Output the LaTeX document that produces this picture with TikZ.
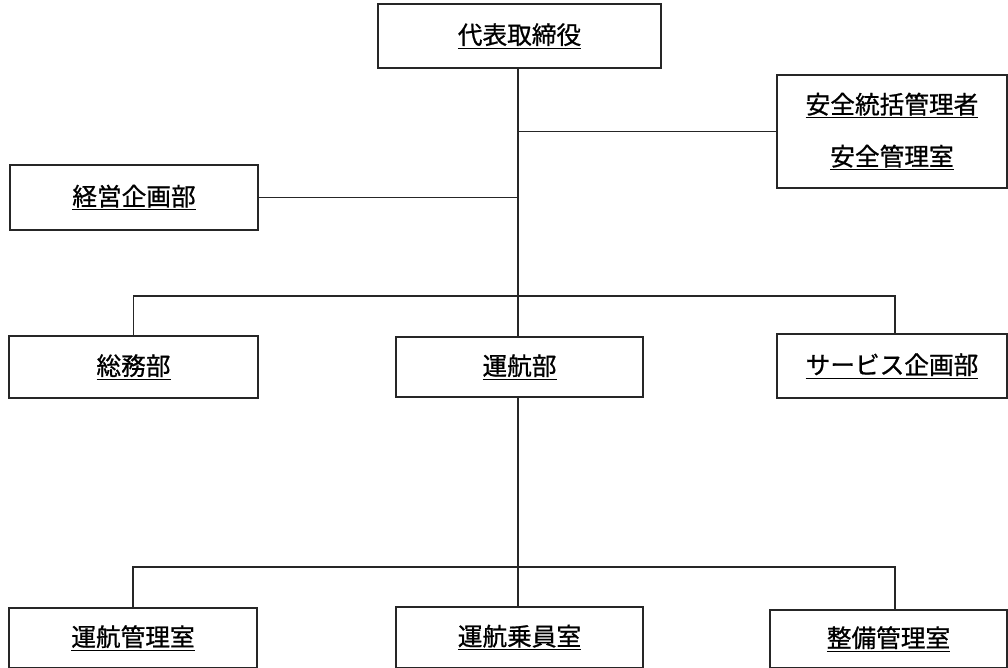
\documentclass[tikz,border=0pt]{standalone}
\usepackage{fontspec}
\setmainfont{Noto Sans CJK JP}[FakeBold=0.8]
\usetikzlibrary{calc}
\begin{document}
\begin{tikzpicture}[x=0.75pt,y=-0.75pt,
  orgbox/.style={draw=black!85,line width=1.2pt,fill=white,inner sep=0pt,
    font=\fontsize{18.5pt}{22pt}\selectfont,align=center},
  link/.style={draw=black!85,line width=1.2pt}]
\useasboundingbox (0,0) rectangle (1008,668);
% boxes
\node[orgbox,minimum width=283*0.75pt,minimum height=64*0.75pt] (top) at (519.5,36) {\underline{代表取締役}};
\node[orgbox,minimum width=230*0.75pt,minimum height=113*0.75pt] (anzen) at (892,131.5) {\underline{安全統括管理者}\\[17pt]\underline{安全管理室}};
\node[orgbox,minimum width=248*0.75pt,minimum height=65*0.75pt] (keiei) at (134,197.5) {\underline{経営企画部}};
\node[orgbox,minimum width=249*0.75pt,minimum height=62*0.75pt] (somu) at (133.5,367) {\underline{総務部}};
\node[orgbox,minimum width=247*0.75pt,minimum height=60*0.75pt] (unko) at (519.5,367) {\underline{運航部}};
\node[orgbox,minimum width=230*0.75pt,minimum height=64*0.75pt] (service) at (892,366) {\underline{サービス企画部}};
\node[orgbox,minimum width=248*0.75pt,minimum height=60*0.75pt] (kanri) at (133,638) {\underline{運航管理室}};
\node[orgbox,minimum width=247*0.75pt,minimum height=61*0.75pt] (jouin) at (519.5,637.5) {\underline{運航乗員室}};
\node[orgbox,minimum width=237*0.75pt,minimum height=58*0.75pt] (seibi) at (888.5,639) {\underline{整備管理室}};
% junction coordinates
\coordinate (b1) at (518,296);
\coordinate (b2) at (518,567);
% connectors
\draw[link] ([xshift=-1.5*0.75pt]top.south) -- ([xshift=-1.5*0.75pt]unko.north);
\draw[link] (anzen.west) -- (anzen.west -| b1);
\draw[link] (keiei.east) -- (keiei.east -| b1);
\draw[link] (somu.north) |- (b1) -| ([xshift=3*0.75pt]service.north);
\draw[link] ([xshift=-1.5*0.75pt]unko.south) -- ([xshift=-1.5*0.75pt]jouin.north);
\draw[link] (kanri.north) |- (b2) -| ([xshift=6.5*0.75pt]seibi.north);
\end{tikzpicture}
\end{document}
